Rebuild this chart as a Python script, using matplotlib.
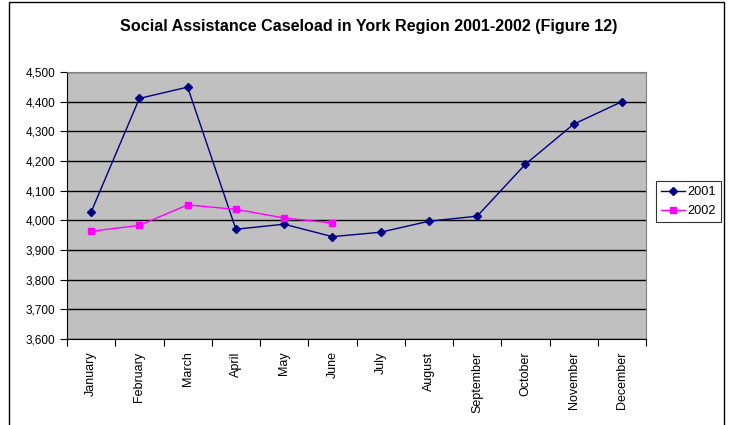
import matplotlib
matplotlib.use("Agg")
import matplotlib.pyplot as plt
from matplotlib.patches import Rectangle
from matplotlib.ticker import FuncFormatter, FixedLocator, NullFormatter

months = ["January", "February", "March", "April", "May", "June", "July",
          "August", "September", "October", "November", "December"]
caseload_2001 = [4028, 4411, 4449, 3970, 3987, 3945, 3960, 3997, 4014, 4189, 4324, 4400]
caseload_2002 = [3963, 3983, 4052, 4037, 4008, 3991]
y_ticks = [3600, 3700, 3800, 3900, 4000, 4100, 4200, 4300, 4400, 4500]

plt.rcParams['font.family'] = ['Liberation Sans', 'DejaVu Sans']

fig = plt.figure(figsize=(7.29, 4.25), dpi=100)
ax = fig.add_axes([67 / 729, 1 - 339 / 425, (646 - 67) / 729, (339 - 72) / 425])
ax.set_facecolor("#C0C0C0")

x = list(range(len(months)))
ax.plot(x, caseload_2001, color="#000080", lw=1.0, marker="D", ms=4,
        label="2001", zorder=3)
ax.plot(x[:len(caseload_2002)], caseload_2002, color="#FF00FF", lw=1.0,
        marker="s", ms=5, label="2002", zorder=3)

ax.set_xlim(-0.5, len(months) - 0.5)
ax.set_ylim(y_ticks[0], y_ticks[-1])
ax.set_yticks(y_ticks)
ax.yaxis.set_major_formatter(FuncFormatter(lambda v, p: f"{int(v):,}"))
ax.grid(axis="y", color="black", lw=1.0)
ax.set_axisbelow(True)

# category ticks between months, labels centred on each month
ax.xaxis.set_major_locator(FixedLocator([i - 0.5 for i in range(len(months) + 1)]))
ax.xaxis.set_major_formatter(NullFormatter())
ax.xaxis.set_minor_locator(FixedLocator(x))
ax.set_xticklabels(months, minor=True, rotation=90, fontsize=9)
ax.tick_params(axis="x", which="major", direction="out", length=5, color="black")
ax.tick_params(axis="x", which="minor", length=0, pad=9)
ax.tick_params(axis="y", direction="out", length=5, labelsize=8.5)

for side in ["top", "right"]:
    ax.spines[side].set_color("#808080")
for side in ["left", "bottom"]:
    ax.spines[side].set_color("black")

fig.text(369 / 729, 1 - 27 / 425, "Social Assistance Caseload in York Region 2001-2002 (Figure 12)",
         ha="center", va="center", fontsize=11.6, fontweight="bold")

leg = fig.legend(loc="upper left", bbox_to_anchor=(656 / 729, 1 - 181 / 425),
                 fontsize=9.2, frameon=True, fancybox=False, edgecolor="black",
                 handlelength=1.9, borderpad=0.4, labelspacing=0.55,
                 handletextpad=0.15, borderaxespad=0)
leg.get_frame().set_linewidth(0.8)

# outer chart frame
fig.patches.append(Rectangle((9 / 729, -0.05), (724 - 9) / 729, 1.05 - 2 / 425,
                             transform=fig.transFigure, fill=False,
                             edgecolor="black", lw=1.0))

fig.savefig("out.png", dpi=100)
